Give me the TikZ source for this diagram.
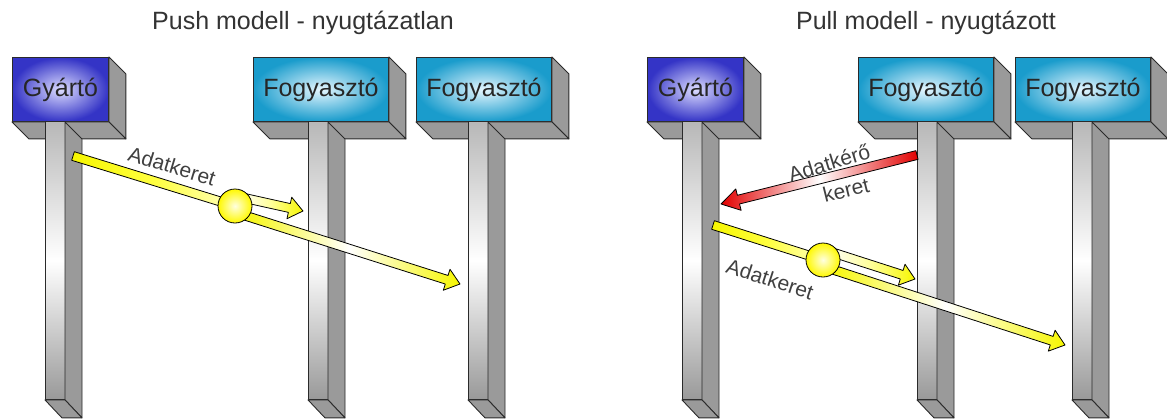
\documentclass[tikz,border=0pt]{standalone}
\usepackage{fontspec}
\setmainfont{Liberation Sans}
\usepackage{xcolor}
\usetikzlibrary{calc}

\definecolor{gyblue}{HTML}{3434C6}
\definecolor{gylight}{HTML}{DCDCFF}
\definecolor{fgblue}{HTML}{1A9CCC}
\definecolor{fglight}{HTML}{E6F7FF}
\definecolor{facegray}{HTML}{9A9A9A}
\definecolor{edge}{HTML}{2A2A2A}
\definecolor{ylw}{HTML}{F6F600}
\definecolor{rd}{HTML}{E20000}

\tikzset{
  block/.style={draw=edge, line width=0.9pt, minimum height=64pt, inner sep=0pt,
    anchor=north west, font=\fontsize{25}{30}\selectfont, text=black!85},
  gyarto/.style={block, minimum width=96pt, inner color=gylight, outer color=gyblue},
  fogyaszto/.style={block, minimum width=135pt, inner color=fglight, outer color=fgblue},
  face/.style={fill=facegray, draw=edge, line width=0.9pt, line join=round},
  shaft/.style={top color=black!28, bottom color=black!40, middle color=white,
    draw=edge, line width=0.9pt},
  title/.style={font=\fontsize{25}{30}\selectfont, text=black!80},
  msg/.style={font=\fontsize{21}{25}\selectfont, text=black!75},
  data/.style={draw=black, line width=0.8pt, line join=round, left color=ylw, right color=ylw, middle color=white},
  request/.style={draw=black, line width=0.8pt, line join=round, left color=rd, right color=rd, middle color=white},
  ball/.style={circle, minimum size=34pt, inner sep=0pt, draw=black, line width=0.8pt,
    inner color=yellow!12, outer color=yellow!95!orange},
}

% right and bottom faces of a block
\newcommand\blockdepth[1]{%
  \filldraw[face] (#1.north east) -- ([shift={(17,17)}]#1.north east)
    -- ([shift={(17,17)}]#1.south east) -- (#1.south east) -- cycle;
  \filldraw[face] (#1.south west) -- (#1.south east)
    -- ([shift={(17,17)}]#1.south east) -- ([shift={(17,17)}]#1.south west) -- cycle;
}
% lifeline under a block, #2 = offset of the shaft from the left edge
\newcommand\pillar[2]{%
  \coordinate (#1-top) at ([xshift=#2]#1.south west);
  \shade[shaft] (#1-top) rectangle ++(20,278);
  \filldraw[face] ([xshift=20]#1-top) -- ++(17,17) -- ++(0,279) -- ++(-17,-18) -- cycle;
  \filldraw[face] ([shift={(0,278)}]#1-top) -- ++(20,0) -- ++(17,18) -- ++(-20,0) -- cycle;
}
% flat band and band with a head between two points
\newcommand\fatband[3]{%
  \shade[#3] ($(#1)!4.5pt!90:(#2)$) -- ($(#2)!4.5pt!-90:(#1)$)
    -- ($(#2)!4.5pt!90:(#1)$) -- ($(#1)!4.5pt!-90:(#2)$) -- cycle;
}
\newcommand\fatarrow[4]{%
  \coordinate (fa-base) at ($(#2)!#4!(#1)$);
  \shade[#3] ($(#1)!4.5pt!90:(#2)$) -- ($(fa-base)!4.5pt!90:(#2)$)
    -- ($(fa-base)!11pt!90:(#2)$) -- (#2) -- ($(fa-base)!11pt!-90:(#2)$)
    -- ($(fa-base)!4.5pt!-90:(#2)$) -- ($(#1)!4.5pt!-90:(#2)$) -- cycle;
}

\begin{document}
\begin{tikzpicture}[x=1pt, y=-1pt]
\useasboundingbox (0,0) rectangle (1167,418);

\node[title] (t-push) at (303,23) {Push modell - nyugtázatlan};
\node[title] (t-pull) at (926,23) {Pull modell - nyugtázott};

% push side
\node[gyarto] (gy-push) at (12,57) {Gyártó};
\node[fogyaszto] (fo-push-a) at (253,57) {Fogyasztó};
\node[fogyaszto] (fo-push-b) at (416,57) {Fogyasztó};
\blockdepth{gy-push}
\blockdepth{fo-push-a}
\blockdepth{fo-push-b}
\pillar{gy-push}{33}
\pillar{fo-push-a}{55}
\pillar{fo-push-b}{52}

% pull side
\node[gyarto] (gy-pull) at (647,57) {Gyártó};
\node[fogyaszto] (fo-pull-a) at (858,57) {Fogyasztó};
\node[fogyaszto] (fo-pull-b) at (1015,57) {Fogyasztó};
\blockdepth{gy-pull}
\blockdepth{fo-pull-a}
\blockdepth{fo-pull-b}
\pillar{gy-pull}{35}
\pillar{fo-pull-a}{59}
\pillar{fo-pull-b}{57}

% data frames
\coordinate (push-src) at (73,156);
\coordinate (push-hub) at (235,206);
\coordinate (push-up) at (240,197);
\coordinate (push-down) at (240,214);
\coordinate (push-to-a) at (303,211);
\coordinate (push-to-b) at (460,284);
\fatband{push-src}{push-hub}{data, right color=yellow!25!white, middle color=yellow!75!white}
\fatarrow{push-up}{push-to-a}{data, left color=white, middle color=yellow!40!white}{14pt}
\fatarrow{push-down}{push-to-b}{data}{14pt}
\node[ball] (push-ball) at (push-hub) {};
\node[msg, rotate=-17] (lbl-push) at (172,166) {Adatkeret};

\coordinate (pull-req) at (917,155);
\coordinate (pull-req-to) at (721,204);
\fatarrow{pull-req}{pull-req-to}{request}{18pt}
\node[msg, rotate=17] (lbl-req-a) at (829,163) {Adatkérő};
\node[msg, rotate=14] (lbl-req-b) at (846,190) {keret};

\coordinate (pull-src) at (713,225);
\coordinate (pull-hub) at (823,260);
\coordinate (pull-up) at (828,251);
\coordinate (pull-down) at (828,268);
\coordinate (pull-to-a) at (915,279);
\coordinate (pull-to-b) at (1065,345);
\fatband{pull-src}{pull-hub}{data, right color=yellow!25!white, middle color=yellow!75!white}
\fatarrow{pull-up}{pull-to-a}{data, left color=white, middle color=yellow!40!white}{14pt}
\fatarrow{pull-down}{pull-to-b}{data}{14pt}
\node[ball] (pull-ball) at (pull-hub) {};
\node[msg, rotate=-18] (lbl-pull) at (770,279) {Adatkeret};
\end{tikzpicture}
\end{document}
